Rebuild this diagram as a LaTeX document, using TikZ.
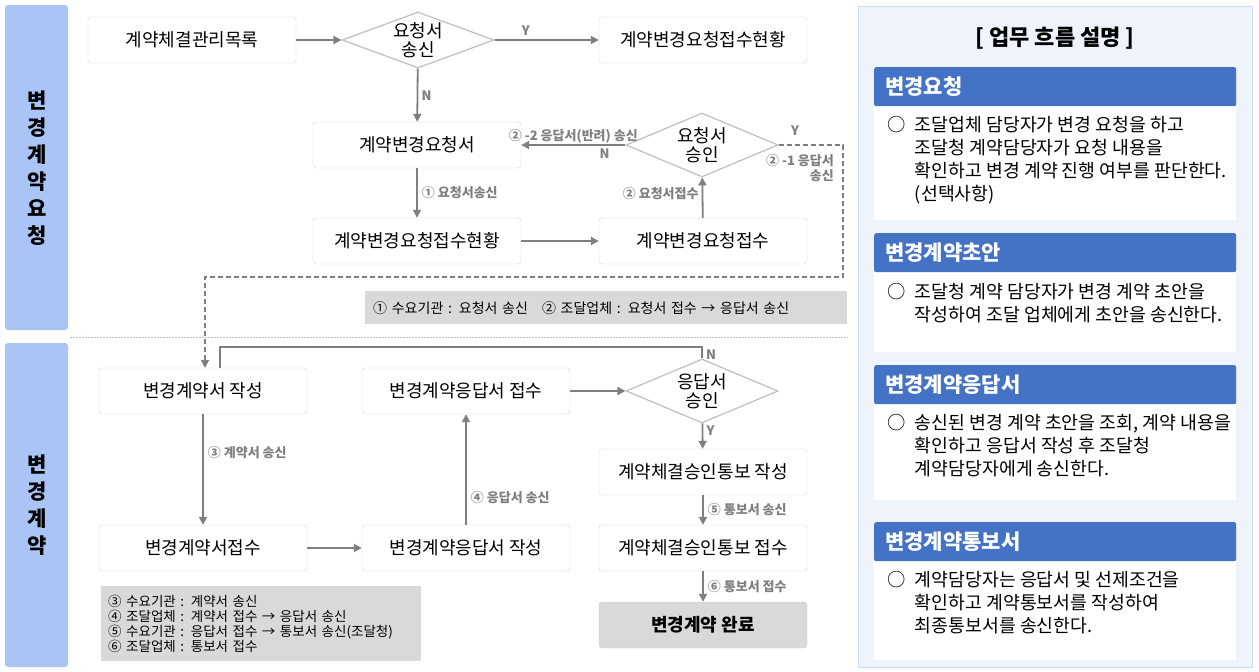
\documentclass[tikz,border=0pt]{standalone}
\usepackage{fontspec}
\setmainfont{Noto Sans CJK KR}
\usetikzlibrary{shapes.geometric,arrows.meta}
\definecolor{band}{HTML}{A9C4F5}
\definecolor{ln}{HTML}{7F7F7F}
\definecolor{hdr}{HTML}{4472C4}
\definecolor{pan}{HTML}{EEF3FC}
\begin{document}
\begin{tikzpicture}[x=1pt,y=-1pt,
 box/.style={draw=black!18,fill=white,rounded corners=3pt,minimum width=208pt,minimum height=46pt,font=\fontsize{18}{20}\selectfont},
 dia/.style={diamond,draw=black!25,fill=white,line width=1.2pt,aspect=2.4,inner sep=0pt,font=\fontsize{18}{19}\selectfont,align=center},
 arr/.style={draw=ln,line width=1.8pt,-{Triangle[length=8pt,width=8pt]}},
 lab/.style={text=ln,font=\fontsize{13}{15}\selectfont\bfseries,inner sep=1pt},
 yn/.style={text=ln,font=\fontsize{13}{15}\selectfont\bfseries},
 note/.style={fill=black!15,anchor=north west,align=left,font=\fontsize{14}{16}\selectfont},
 hd/.style={fill=hdr,text=white,anchor=north west,minimum width=362pt,minimum height=39pt,text width=340pt,inner xsep=11pt,font=\fontsize{21}{23}\selectfont\bfseries,rounded corners=2pt},
 wt/.style={fill=white,anchor=north west,minimum width=362pt},
 desc/.style={anchor=north west,align=left,font=\fontsize{18.3}{23}\selectfont},
 bt/.style={font=\fontsize{21}{27}\selectfont\bfseries,align=center}]
\useasboundingbox (0,0) rectangle (1259,672);
% bands
\fill[band,rounded corners=3pt] (5,5) rectangle (68,330);
\fill[band,rounded corners=3pt] (5,343) rectangle (68,667);
\node[bt] (t1) at (37,168) {변\\경\\계\\약\\요\\청};
\node[bt] (t2) at (37,505) {변\\경\\계\\약};
\draw[black!25,dash pattern=on 2pt off 1pt] (70,337) -- (848,337);
% nodes
\node[box] (A) at (192,40) {계약체결관리목록};
\node[dia,minimum width=152pt,minimum height=50pt] (D1) at (418,40) {요청서\\송신};
\node[box] (B) at (703,40) {계약변경요청접수현황};
\node[box] (C) at (417,145) {계약변경요청서};
\node[dia,minimum width=152pt,minimum height=64pt] (D2) at (702,145) {요청서\\승인};
\node[box] (E) at (417,241) {계약변경요청접수현황};
\node[box] (F) at (703,241) {계약변경요청접수};
\node[note,text width=466pt,minimum height=33pt,inner xsep=8pt] (N1) at (365,291) {① 수요기관 : 요청서 송신\quad ② 조달업체 : 요청서 접수 → 응답서 송신};
\node[box] (G) at (203,391) {변경계약서 작성};
\node[box] (H) at (466,391) {변경계약응답서 접수};
\node[dia,minimum width=152pt,minimum height=64pt] (D3) at (702,391) {응답서\\승인};
\node[box] (I) at (703,472) {계약체결승인통보 작성};
\node[box] (J) at (203,548) {변경계약서접수};
\node[box] (K) at (466,548) {변경계약응답서 작성};
\node[box] (L) at (703,548) {계약체결승인통보 접수};
\node[box,fill=black!15,font=\fontsize{18}{20}\selectfont\bfseries] (M) at (703,625) {변경계약 완료};
\node[note,text width=306pt,minimum height=75pt,inner xsep=7pt,inner ysep=3pt,font=\fontsize{13.5}{15}\selectfont] (N2) at (101,586) {③ 수요기관 : 계약서 송신\\④ 조달업체 : 계약서 접수 → 응답서 송신\\⑤ 수요기관 : 응답서 접수 → 통보서 송신(조달청)\\⑥ 조달업체 : 통보서 접수};
\coordinate (p1) at (843,145); \coordinate (p2) at (843,277); \coordinate (p3) at (205,277);
\coordinate (q1) at (702,347); \coordinate (q2) at (220,347);
% connectors
\draw[arr] (A) -- (D1);
\draw[arr] (D1) -- node[yn,above,pos=0.3]{Y} (B);
\draw[arr] (D1) -- node[yn,right,pos=0.5]{N} (C);
\draw[arr] (D2) -- node[yn,below,pos=0.2]{N} node[lab,above,pos=0.5]{② -2 응답서(반려) 송신} (C);
\draw[arr] (C) -- node[lab,right,xshift=3pt]{① 요청서송신} (E);
\draw[arr] (E) -- (F);
\draw[arr] (F) -- node[lab,left,xshift=-2pt,pos=0.6]{② 요청서접수} (D2);
\draw[draw=ln,line width=1.6pt,dash pattern=on 5pt off 3pt,-{Triangle[length=8pt,width=8pt]}] (D2.east) -- (p1) -- (p2) -- (p3) -- (205,368);
\node[yn] (y2) at (795,131) {Y};
\node[lab,align=right] (l21) at (800,168) {② -1 응답서\\송신};
\draw[draw=ln,line width=1.8pt] (D3.north) -- node[yn,right,pos=0.3]{N} (q1) -- (q2) -- (220,368);
\draw[arr] (G) -- node[lab,right,xshift=3pt,pos=0.35]{③ 계약서 송신} (J);
\draw[arr] (J) -- (K);
\draw[arr] (K) -- node[lab,right,xshift=3pt,pos=0.25]{④ 응답서 송신} (H);
\draw[arr] (H) -- (D3);
\draw[arr] (D3) -- node[yn,right,pos=0.3]{Y} (I);
\draw[arr] (I) -- node[lab,right,xshift=3pt]{⑤ 통보서 송신} (L);
\draw[arr] (L) -- node[lab,right,xshift=3pt]{⑥ 통보서 접수} (M);
% right panel
\draw[fill=pan,draw=band!60] (858,6) rectangle (1252,667);
\node[font=\fontsize{22}{24}\selectfont\bfseries] (T) at (1055,38) {[ 업무 흐름 설명 ]};
\node[wt,minimum height=153pt] (w1) at (874,67) {};
\node[hd] (h1) at (874,67) {변경요청};
\node[desc] (d1) at (884,113) {○\enspace 조달업체 담당자가 변경 요청을 하고\\\phantom{○\enspace}조달청 계약담당자가 요청 내용을\\\phantom{○\enspace}확인하고 변경 계약 진행 여부를 판단한다.\\\phantom{○\enspace}(선택사항)};
\node[wt,minimum height=119pt] (w2) at (874,233) {};
\node[hd] (h2) at (874,233) {변경계약초안};
\node[desc] (d2) at (884,280) {○\enspace 조달청 계약 담당자가 변경 계약 초안을\\\phantom{○\enspace}작성하여 조달 업체에게 초안을 송신한다.};
\node[wt,minimum height=135pt] (w3) at (874,365) {};
\node[hd] (h3) at (874,365) {변경계약응답서};
\node[desc] (d3) at (884,411) {○\enspace 송신된 변경 계약 초안을 조회, 계약 내용을\\\phantom{○\enspace}확인하고 응답서 작성 후 조달청\\\phantom{○\enspace}계약담당자에게 송신한다.};
\node[wt,minimum height=138pt] (w4) at (874,522) {};
\node[hd] (h4) at (874,522) {변경계약통보서};
\node[desc] (d4) at (884,568) {○\enspace 계약담당자는 응답서 및 선제조건을\\\phantom{○\enspace}확인하고 계약통보서를 작성하여\\\phantom{○\enspace}최종통보서를 송신한다.};
\end{tikzpicture}
\end{document}
